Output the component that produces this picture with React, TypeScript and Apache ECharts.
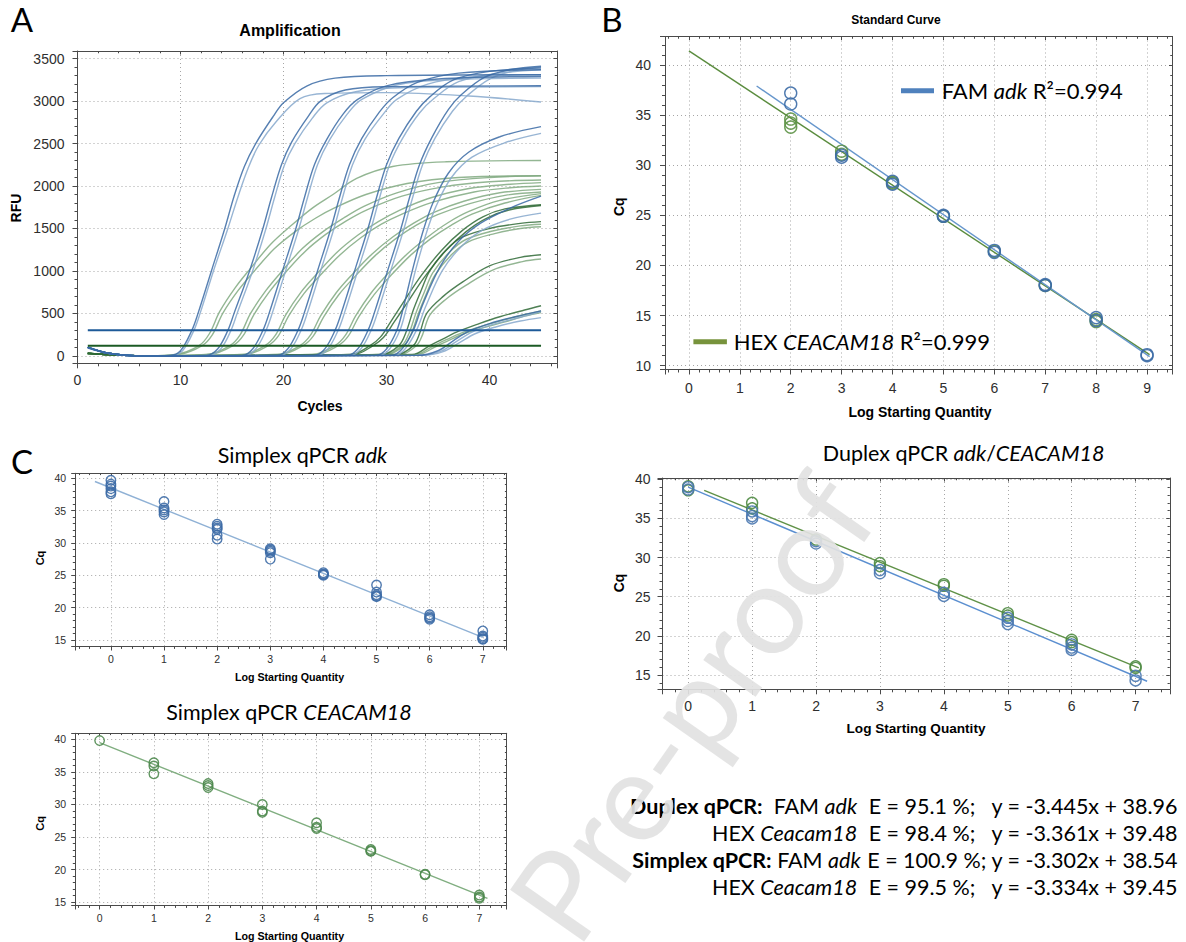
import React, { useEffect, useRef } from 'react';
import * as echarts from 'echarts';

// ---------- Panel A : amplification curves [cycle, RFU] ----------
const fam1a = [[1,105],[3,32],[6,0],[9,5],[10,60],[11.1,300],[11.7,500],[13,1000],[14.3,1500],[15.2,1880],[16.2,2230],[17.3,2500],[19,2820],[20,2980],[22.3,3180],[25,3270],[30,3300],[45,3310]];
const fam1b = [[1,95],[3,30],[6,0],[9.2,5],[10.2,60],[11.3,300],[11.9,500],[13.2,1000],[14.6,1500],[15.6,1880],[16.6,2220],[17.6,2480],[19.3,2760],[21.6,3030],[24,3090],[30,3100],[38,3060],[45,2990]];
const fam2a = [[1,100],[3,30],[6,0],[12.5,5],[13.6,80],[14.6,300],[15.2,500],[16.7,1000],[18,1500],[18.8,1850],[19.8,2250],[20.8,2520],[22.4,2820],[23.6,3000],[26,3130],[30,3170],[45,3180]];
const fam2b = [[1,90],[3,28],[6,0],[12.8,5],[13.9,80],[14.9,300],[15.5,500],[17,1000],[18.3,1500],[19.1,1850],[20.1,2250],[21.1,2500],[22.8,2800],[24.2,2980],[27,3110],[32,3160],[45,3170]];
const fam3a = [[1,100],[3,30],[6,0],[16,5],[17,80],[18,300],[18.6,500],[19.9,1000],[21.2,1500],[22,1850],[23,2250],[24.2,2550],[25.8,2850],[27.2,3020],[30,3180],[35,3260],[45,3290]];
const fam3b = [[1,100],[3,30],[6,0],[16.3,5],[17.3,80],[18.3,300],[18.9,500],[20.2,1000],[21.5,1500],[22.3,1850],[23.3,2250],[24.5,2550],[26.2,2850],[27.6,3020],[31,3190],[36,3250],[45,3270]];
const fam4a = [[1,100],[3,30],[6,0],[19.4,5],[20.4,80],[21.4,300],[22,500],[23.3,1000],[24.6,1500],[25.4,1850],[26.4,2250],[27.6,2560],[29.3,2870],[30.6,3040],[33,3220],[37,3330],[45,3370]];
const fam4b = [[1,100],[3,30],[6,0],[19.7,5],[20.7,80],[21.7,300],[22.3,500],[23.6,1000],[24.9,1500],[25.7,1850],[26.7,2250],[27.9,2550],[29.7,2850],[31,3020],[34,3200],[38,3280],[45,3310]];
const fam5a = [[1,100],[3,30],[6,0],[23,5],[24,80],[25,300],[25.6,500],[26.9,1000],[28.2,1500],[29,1850],[30,2250],[31.2,2560],[32.9,2880],[34.2,3050],[36.5,3250],[40,3350],[45,3390]];
const fam5b = [[1,100],[3,30],[6,0],[23.3,5],[24.3,80],[25.3,300],[25.9,500],[27.2,1000],[28.5,1500],[29.3,1850],[30.3,2250],[31.5,2550],[33.2,2860],[34.6,3030],[37,3230],[41,3330],[45,3370]];
const fam6a = [[1,100],[3,30],[6,0],[26.2,5],[27.2,80],[28.2,300],[28.8,500],[30.1,1000],[31.4,1500],[32.2,1850],[33.2,2250],[34.4,2570],[36,2900],[37.3,3080],[39.5,3280],[42,3370],[45,3410]];
const fam6b = [[1,100],[3,30],[6,0],[26.5,5],[27.5,80],[28.5,300],[29.1,500],[30.4,1000],[31.7,1500],[32.5,1850],[33.5,2250],[34.7,2560],[36.4,2880],[37.8,3060],[40,3260],[42.5,3360],[45,3400]];
const fam7a = [[1,100],[3,30],[6,0],[29,5],[30,80],[31,300],[31.6,550],[32.5,1000],[33.5,1450],[34.5,1800],[36,2150],[38,2400],[41,2580],[45,2700]];
const fam7b = [[1,100],[3,30],[6,0],[29.3,5],[30.3,80],[31.3,300],[31.9,550],[32.8,1000],[33.8,1420],[34.8,1760],[36.3,2100],[38.3,2340],[41.5,2510],[45,2620]];
const fam8a = [[1,100],[3,30],[6,0],[30.5,5],[31.5,80],[32.6,300],[33.5,600],[35.2,1050],[37,1350],[39.1,1560],[42,1740],[45,1880]];
const fam8b = [[1,100],[3,30],[6,0],[30.8,5],[31.8,80],[32.9,300],[33.8,580],[35.4,1000],[37.2,1280],[39.3,1480],[42,1610],[45,1680]];
const fam9a = [[1,100],[3,30],[6,0],[33,5],[35,60],[36.5,180],[38,290],[40,380],[42.5,460],[45,530]];
const fam9b = [[1,100],[3,30],[6,0],[33.3,5],[35.3,55],[36.8,170],[38.3,280],[40.3,370],[42.7,445],[45,520]];
const fam9c = [[1,100],[3,30],[6,0],[33.5,5],[35.5,50],[37,150],[38.6,260],[40.6,340],[43,410],[45,450]];

const hex1a = [[1,30],[4,8],[7,0],[9.5,15],[11.8,120],[12.8,260],[13.8,520],[15.3,800],[16.8,1030],[18.8,1320],[20.8,1540],[22.8,1740],[24.8,1900],[27.1,2090],[30.6,2230],[35.8,2285],[45,2300]];
const hex1b = [[1,28],[4,8],[7,0],[9.8,15],[12.1,120],[13.1,250],[14.1,500],[15.6,770],[17.1,990],[19.1,1260],[21.1,1460],[23.1,1620],[25.1,1750],[28,1900],[32,2030],[37,2100],[45,2120]];
const hex2a = [[1,28],[4,8],[7,0],[12.5,15],[14.8,120],[15.8,250],[16.8,500],[18.3,770],[19.8,990],[21.8,1260],[23.8,1460],[25.8,1620],[27.8,1760],[31,1920],[35,2040],[40,2100],[45,2120]];
const hex2b = [[1,26],[4,8],[7,0],[12.8,15],[15.1,120],[16.1,240],[17.1,480],[18.6,750],[20.1,970],[22.1,1230],[24.1,1430],[26.1,1590],[28.1,1720],[31.5,1880],[35.5,1990],[40,2050],[45,2070]];
const hex3a = [[1,28],[4,8],[7,0],[16,15],[18.2,120],[19.2,240],[20.2,480],[21.7,750],[23.2,960],[25.2,1220],[27.2,1420],[29.2,1580],[31.2,1710],[34,1850],[38,1970],[42,2020],[45,2040]];
const hex3b = [[1,26],[4,8],[7,0],[16.3,15],[18.5,120],[19.5,235],[20.5,470],[22,735],[23.5,940],[25.5,1190],[27.5,1390],[29.5,1550],[31.5,1670],[34.5,1810],[38.5,1930],[42,1980],[45,2000]];
const hex4a = [[1,28],[4,8],[7,0],[19.4,15],[21.6,120],[22.6,240],[23.6,470],[25.1,740],[26.6,950],[28.6,1200],[30.6,1400],[32.6,1560],[34.6,1690],[37.5,1820],[41,1920],[45,1960]];
const hex4b = [[1,26],[4,8],[7,0],[19.7,15],[21.9,120],[22.9,235],[23.9,460],[25.4,725],[26.9,930],[28.9,1180],[30.9,1380],[32.9,1540],[34.9,1660],[38,1790],[41.5,1890],[45,1930]];
const hex5a = [[1,28],[4,8],[7,0],[22.8,15],[25,120],[26,240],[27,470],[28.5,740],[30,950],[32,1200],[34,1400],[36,1570],[38,1700],[41,1830],[45,1910]];
const hex5b = [[1,26],[4,8],[7,0],[23.1,15],[25.3,120],[26.3,235],[27.3,460],[28.8,720],[30.3,930],[32.3,1180],[34.3,1380],[36.3,1540],[38.3,1670],[41.5,1800],[45,1890]];
const hex6a = [[1,30],[4,8],[7,0],[26.5,15],[28.4,120],[29.4,220],[30.4,400],[31.9,680],[33.4,950],[35.4,1250],[37.4,1480],[39.4,1640],[41.5,1730],[45,1780]];
const hex6b = [[1,28],[4,8],[7,0],[26.8,15],[28.7,120],[29.7,215],[30.7,390],[32.2,660],[33.7,930],[35.7,1230],[37.7,1460],[39.7,1620],[42,1720],[45,1770]];
const hex7a = [[1,30],[4,8],[7,0],[29.5,15],[31.2,120],[31.9,280],[32.6,540],[33.4,780],[34.2,1000],[35.8,1250],[37.4,1400],[40,1500],[43,1560],[45,1580]];
const hex7b = [[1,28],[4,8],[7,0],[29.8,15],[31.5,120],[32.2,270],[32.9,520],[33.7,760],[34.5,980],[36.1,1220],[37.7,1370],[40.3,1470],[43,1530],[45,1550]];
const hex7c = [[1,26],[4,8],[7,0],[30,15],[31.7,120],[32.4,260],[33.1,500],[33.9,740],[34.7,950],[36.3,1190],[37.9,1340],[40.5,1440],[43,1500],[45,1520]];
const hex8a = [[1,30],[4,8],[7,0],[31,15],[32.6,120],[33.2,260],[33.9,500],[35.5,700],[37.4,870],[40,1060],[43,1160],[45,1190]];
const hex8b = [[1,28],[4,8],[7,0],[31.3,15],[32.9,120],[33.5,250],[34.2,480],[35.8,670],[37.7,830],[40.3,1010],[43.2,1110],[45,1140]];
const hex9a = [[1,30],[4,8],[7,0],[32.5,15],[34.2,120],[35.5,200],[37,290],[39,380],[41,460],[43.4,540],[45,590]];
const hex9b = [[1,28],[4,8],[7,0],[32.8,15],[34.5,115],[35.8,190],[37.3,270],[39.3,350],[41.3,420],[43.5,490],[45,530]];
const hex9c = [[1,26],[4,8],[7,0],[33,15],[34.8,110],[36,180],[37.5,260],[39.5,335],[41.5,400],[43.5,470],[45,510]];

const famDark = [fam1a, fam2a, fam3a, fam4a, fam5a, fam6a, fam7a, fam8a, fam9a];
const famLight = [fam1b, fam2b, fam3b, fam4b, fam5b, fam6b, fam7b, fam8b, fam9b, fam9c];
const hexLight = [hex1a, hex1b, hex2a, hex2b, hex3a, hex3b, hex4a, hex4b, hex5a, hex5b, hex7b, hex7c, hex8b, hex9b, hex9c];
const hexDark = [hex6a, hex6b, hex7a, hex8a, hex9a];

const famThreshold = [[1, 300], [45, 300]];
const hexThreshold = [[1, 120], [45, 120]];

// ---------- Panel B : standard curve [log quantity, Cq] ----------
const bFamPts = [[2,37.2],[2,36.1],[3,31.0],[3,30.8],[4,28.4],[4,28.1],[5,25.0],[5,24.9],[6,21.5],[6,21.3],[7,18.0],[7,18.1],[8,14.8],[8,14.5],[9,11.1],[9,11.0]];
const bHexPts = [[2,34.6],[2,34.2],[2,33.8],[3,31.4],[3,31.1],[4,28.3],[4,28.2],[5,24.9],[6,21.4],[7,18.0],[8,14.4],[8,14.6]];
const bFamLine = [[1.33,37.9],[9.05,10.9]];
const bHexLine = [[0,41.4],[9.05,11.1]];

// ---------- Panel C : simplex adk ----------
const c1Pts = [[0,39.7],[0,39.1],[0,38.8],[0,38.4],[0,37.9],[0,37.6],[1,36.4],[1,35.4],[1,35.1],[1,34.8],[1,34.4],[2,32.9],[2,32.6],[2,32.3],[2,32.1],[2,31.2],[2,30.6],[3,29.1],[3,28.9],[3,28.7],[3,28.5],[3,27.5],[4,25.4],[4,25.2],[4,25.1],[4,25.0],[5,23.5],[5,22.4],[5,22.0],[5,21.8],[5,21.7],[6,18.9],[6,18.6],[6,18.4],[6,18.2],[7,16.4],[7,15.6],[7,15.4],[7,15.2],[7,15.1]];
const c1Line = [[-0.3,39.5],[7.0,15.4]];
// ---------- Panel C : simplex CEACAM18 ----------
const c2Pts = [[0,39.8],[1,36.4],[1,35.9],[1,34.7],[2,33.2],[2,32.9],[2,32.6],[3,30.0],[3,29.0],[3,28.8],[4,27.2],[4,26.5],[4,26.3],[5,23.1],[5,22.9],[5,22.8],[6,19.3],[6,19.2],[7,16.1],[7,15.8],[7,15.6]];
const c2Line = [[0,39.5],[7.15,15.6]];
// ---------- Panel C : duplex ----------
const dFamPts = [[0,39.0],[0,38.7],[1,35.9],[1,35.3],[1,35.0],[2,32.1],[2,31.8],[3,28.4],[3,28.0],[4,25.5],[4,25.1],[5,22.3],[5,21.9],[5,21.5],[6,18.9],[6,18.5],[6,18.2],[7,14.9],[7,14.3]];
const dHexPts = [[0,39.1],[0,38.6],[1,37.0],[1,36.3],[2,32.3],[3,29.3],[3,28.9],[4,26.6],[4,26.4],[5,22.9],[5,22.6],[6,19.5],[6,19.2],[7,16.1],[7,15.9]];
const dFamLine = [[0,39.0],[7.18,14.2]];
const dHexLine = [[0.25,38.6],[7.05,15.9]];

const ARIAL = '"Liberation Sans", Arial, sans-serif';
const CAL = 'Lato, "Open Sans", sans-serif';

function axes(g: number, c: any) {
  const ls = { color: '#4a4a4a', width: 1 };
  const base = { type: 'value', gridIndex: g, splitNumber: 10 };
  const lab = (m: number, showMin: boolean) => ({
    show: true, fontSize: c.fs, fontFamily: ARIAL, color: '#2e2e2e', margin: m,
    showMinLabel: showMin, showMaxLabel: false, formatter: (v: number) => String(v),
  });
  const split = { show: true, lineStyle: { color: '#a6a6a6', width: 1, type: [1, 3] } };
  const xr = { min: c.xmin, max: c.xmax, minInterval: c.xint, maxInterval: c.xint };
  const yr = { min: c.ymin, max: c.ymax, minInterval: c.yint, maxInterval: c.yint };
  const x = [
    { ...base, ...xr, position: 'bottom', axisLine: { show: true, onZero: false, lineStyle: ls },
      axisTick: { show: true, length: c.tl, lineStyle: ls }, minorTick: { show: true, splitNumber: 5, length: c.tl * 0.6, lineStyle: ls },
      splitLine: split, axisLabel: lab(c.xm, c.xShowMin) },
    { ...base, ...xr, position: 'top', axisLine: { show: true, onZero: false, lineStyle: ls },
      axisTick: { show: true, inside: true, length: c.tl * 0.7, lineStyle: ls }, minorTick: { show: true, splitNumber: 5, length: c.tl * 0.45, lineStyle: ls },
      splitLine: { show: false }, axisLabel: { show: false } },
  ];
  const y = [
    { ...base, ...yr, position: 'left', axisLine: { show: true, onZero: false, lineStyle: ls },
      axisTick: { show: true, length: c.tl, lineStyle: ls }, minorTick: { show: true, splitNumber: 5, length: c.tl * 0.6, lineStyle: ls },
      splitLine: split, axisLabel: lab(c.ym, false) },
    { ...base, ...yr, position: 'right', axisLine: { show: true, onZero: false, lineStyle: ls },
      axisTick: { show: true, inside: true, length: c.tl * 0.7, lineStyle: ls }, minorTick: { show: true, splitNumber: 5, length: c.tl * 0.45, lineStyle: ls },
      splitLine: { show: false }, axisLabel: { show: false } },
  ];
  return { x, y };
}

function txt(x: number, y: number, text: string, size: number, o: any = {}) {
  return {
    type: 'text', x, y, z: o.z ?? 50, rotation: o.rotation ?? 0,
    style: {
      text, fontSize: size, fontFamily: o.font ?? ARIAL, fontWeight: o.weight ?? 'normal',
      fontStyle: o.italic ? 'italic' : 'normal', fill: o.fill ?? '#000', opacity: o.opacity ?? 1,
      align: o.align ?? 'center', verticalAlign: 'middle', rich: o.rich,
    },
  };
}

function richSet(size: number) {
  return {
    i: { fontSize: size, fontFamily: CAL, fontStyle: 'italic', fontWeight: 'normal', fill: '#000' },
    b: { fontSize: size, fontFamily: CAL, fontStyle: 'normal', fontWeight: 'bold', fill: '#000' },
  };
}

function buildOption() {
  const gA = { left: 77.5, top: 51, width: 479.5, height: 312.3 };
  const gB = { left: 665, top: 36.5, width: 507.5, height: 333 };
  const gC1 = { left: 75.2, top: 473.3, width: 431.5, height: 173.2 };
  const gC2 = { left: 75.2, top: 733.3, width: 431.5, height: 172.2 };
  const gD = { left: 662.5, top: 478, width: 507.3, height: 211.3 };

  const aA = axes(0, { xmin: 0, xmax: 46.55, xint: 10, ymin: -88, ymax: 3590, yint: 500, fs: 14, xm: 10, ym: 13, tl: 5, xShowMin: true });
  const aB = axes(1, { xmin: -0.47, xmax: 9.5, xint: 1, ymin: 9.62, ymax: 42.84, yint: 5, fs: 14, xm: 11, ym: 14, tl: 5, xShowMin: false });
  const aC1 = axes(2, { xmin: -0.672, xmax: 7.45, xint: 1, ymin: 13.99, ymax: 40.77, yint: 5, fs: 10.5, xm: 7, ym: 9, tl: 4, xShowMin: false });
  const aC2 = axes(3, { xmin: -0.45, xmax: 7.505, xint: 1, ymin: 14.5, ymax: 40.92, yint: 5, fs: 10.5, xm: 7, ym: 9, tl: 4, xShowMin: false });
  const aD = axes(4, { xmin: -0.402, xmax: 7.535, xint: 1, ymin: 13.17, ymax: 40.17, yint: 5, fs: 14, xm: 10, ym: 12, tl: 5, xShowMin: false });

  const series: any[] = [];
  const curve = (d: number[][], color: string, w = 1.4) => ({
    type: 'line', xAxisIndex: 0, yAxisIndex: 0, data: d, showSymbol: false, smooth: 0.35,
    lineStyle: { color, width: w, opacity: 0.85 }, silent: true, z: 3,
  });
  hexLight.forEach((d) => series.push(curve(d, '#80a980')));
  hexDark.forEach((d) => series.push(curve(d, '#2f6a36')));
  famLight.forEach((d) => series.push(curve(d, '#86a8cd')));
  famDark.forEach((d) => series.push(curve(d, '#3a6aa4')));
  series.push({ type: 'line', xAxisIndex: 0, yAxisIndex: 0, data: famThreshold, showSymbol: false, lineStyle: { color: '#1d5a98', width: 2 }, z: 5 });
  series.push({ type: 'line', xAxisIndex: 0, yAxisIndex: 0, data: hexThreshold, showSymbol: false, lineStyle: { color: '#1b5a24', width: 2 }, z: 5 });

  const pts = (ai: number, d: number[][], color: string, size: number) => ({
    type: 'scatter', xAxisIndex: ai, yAxisIndex: ai, data: d, symbol: 'circle', symbolSize: size,
    itemStyle: { color: 'rgba(0,0,0,0)', borderColor: color, borderWidth: 1.4, opacity: 0.9 }, z: 4,
  });
  const fit = (ai: number, d: number[][], color: string) => ({
    type: 'line', xAxisIndex: ai, yAxisIndex: ai, data: d, showSymbol: false, lineStyle: { color, width: 1.4 }, z: 3,
  });
  // B
  series.push(fit(2, bHexLine, '#5a8c3e'), fit(2, bFamLine, '#6696cc'));
  series.push(pts(2, bHexPts, '#5e9447', 12), pts(2, bFamPts, '#3c6ca6', 12));
  // C simplex adk
  series.push(fit(4, c1Line, '#8fb1d5'), pts(4, c1Pts, '#3d6ba6', 9.5));
  // C simplex CEACAM18
  series.push(fit(6, c2Line, '#80ae80'), pts(6, c2Pts, '#4f8a4f', 9.5));
  // Duplex
  series.push(fit(8, dFamLine, '#5b8fd0'), fit(8, dHexLine, '#5f9147'));
  series.push(pts(8, dHexPts, '#4f8b43', 11), pts(8, dFamPts, '#4a78b0', 11));

  const r22 = richSet(21.5);
  const r21 = richSet(21.5);
  const rLeg = richSet(22);

  const graphics: any[] = [
    // panel letters
    txt(22, 19, 'A', 33, { font: CAL }),
    txt(612, 19, 'B', 33, { font: CAL }),
    txt(22, 461, 'C', 33, { font: CAL }),
    // Panel A texts
    txt(290, 30, 'Amplification', 16, { weight: 'bold' }),
    txt(320, 406, 'Cycles', 14, { weight: 'bold' }),
    txt(16, 208, 'RFU', 14, { weight: 'bold', rotation: Math.PI / 2 }),
    // Panel B texts
    txt(896, 20, 'Standard Curve', 12, { weight: 'bold' }),
    txt(920, 411.5, 'Log Starting Quantity', 14, { weight: 'bold' }),
    txt(618.5, 206.7, 'Cq', 14, { weight: 'bold', rotation: Math.PI / 2 }),
    { type: 'rect', z: 40, shape: { x: 901, y: 88.2, width: 33, height: 5 }, style: { fill: '#4f81bd' } },
    txt(941.7, 90, 'FAM {i|adk} R²=0.994', 22, { font: CAL, align: 'left', rich: rLeg }),
    { type: 'rect', z: 40, shape: { x: 693.4, y: 339.2, width: 33.5, height: 5 }, style: { fill: '#77933c' } },
    txt(733.7, 341.7, 'HEX {i|CEACAM18} R²=0.999', 22, { font: CAL, align: 'left', rich: rLeg }),
    // Simplex adk
    txt(302.5, 455, 'Simplex qPCR {i|adk}', 21.5, { font: CAL, rich: r22 }),
    txt(289.5, 676.7, 'Log Starting Quantity', 10.7, { weight: 'bold' }),
    txt(39.5, 558, 'Cq', 11, { weight: 'bold', rotation: Math.PI / 2 }),
    // Simplex CEACAM18
    txt(289, 711.7, 'Simplex qPCR {i|CEACAM18}', 21.5, { font: CAL, rich: r22 }),
    txt(289.5, 935.7, 'Log Starting Quantity', 10.7, { weight: 'bold' }),
    txt(39.5, 823.3, 'Cq', 11, { weight: 'bold', rotation: Math.PI / 2 }),
    // Duplex
    txt(963.6, 452.5, 'Duplex qPCR {i|adk}/{i|CEACAM18}', 21.5, { font: CAL, rich: r22 }),
    txt(916, 728.5, 'Log Starting Quantity', 13.6, { weight: 'bold' }),
    txt(618.5, 583, 'Cq', 14, { weight: 'bold', rotation: Math.PI / 2 }),
    // Equations block
    txt(1177.5, 806, '{b|Duplex qPCR:}\u00a0\u00a0FAM {i|adk}\u00a0\u00a0E = 95.1 %;\u00a0\u00a0\u00a0y = -3.445x + 38.96', 21.5, { font: CAL, align: 'right', rich: r21 }),
    txt(1177.5, 833, 'HEX {i|Ceacam18}\u00a0\u00a0E = 98.4 %;\u00a0\u00a0\u00a0y = -3.361x + 39.48', 21.5, { font: CAL, align: 'right', rich: r21 }),
    txt(1177.5, 860, '{b|Simplex qPCR:} FAM {i|adk} E = 100.9 %; y = -3.302x + 38.54', 21.5, { font: CAL, align: 'right', rich: r21 }),
    txt(1177.5, 887, 'HEX {i|Ceacam18}\u00a0\u00a0E = 99.5 %;\u00a0\u00a0\u00a0y = -3.334x + 39.45', 21.5, { font: CAL, align: 'right', rich: r21 }),
    // watermark
    txt(690, 706, 'Pre-proof', 126, { font: CAL, fill: '#e2e2e2', rotation: 55 * Math.PI / 180, z: 100, opacity: 0.92 }),
  ];

  return {
    animation: false,
    backgroundColor: '#ffffff',
    grid: [gA, gB, gC1, gC2, gD].map((g) => ({ ...g, containLabel: false, outerBoundsMode: 'none' })),
    xAxis: [...aA.x, ...aB.x, ...aC1.x, ...aC2.x, ...aD.x],
    yAxis: [...aA.y, ...aB.y, ...aC1.y, ...aC2.y, ...aD.y],
    series,
    graphic: { elements: graphics },
  };
}

export default function App() {
  const ref = useRef<HTMLDivElement>(null);
  useEffect(() => {
    const chart = echarts.init(ref.current as HTMLDivElement, null, { renderer: 'svg' });
    chart.setOption(buildOption() as any);
    return () => chart.dispose();
  }, []);
  return <div ref={ref} style={{ position: 'absolute', left: 0, top: 0, width: 1186, height: 942, background: '#fff' }} />;
}
